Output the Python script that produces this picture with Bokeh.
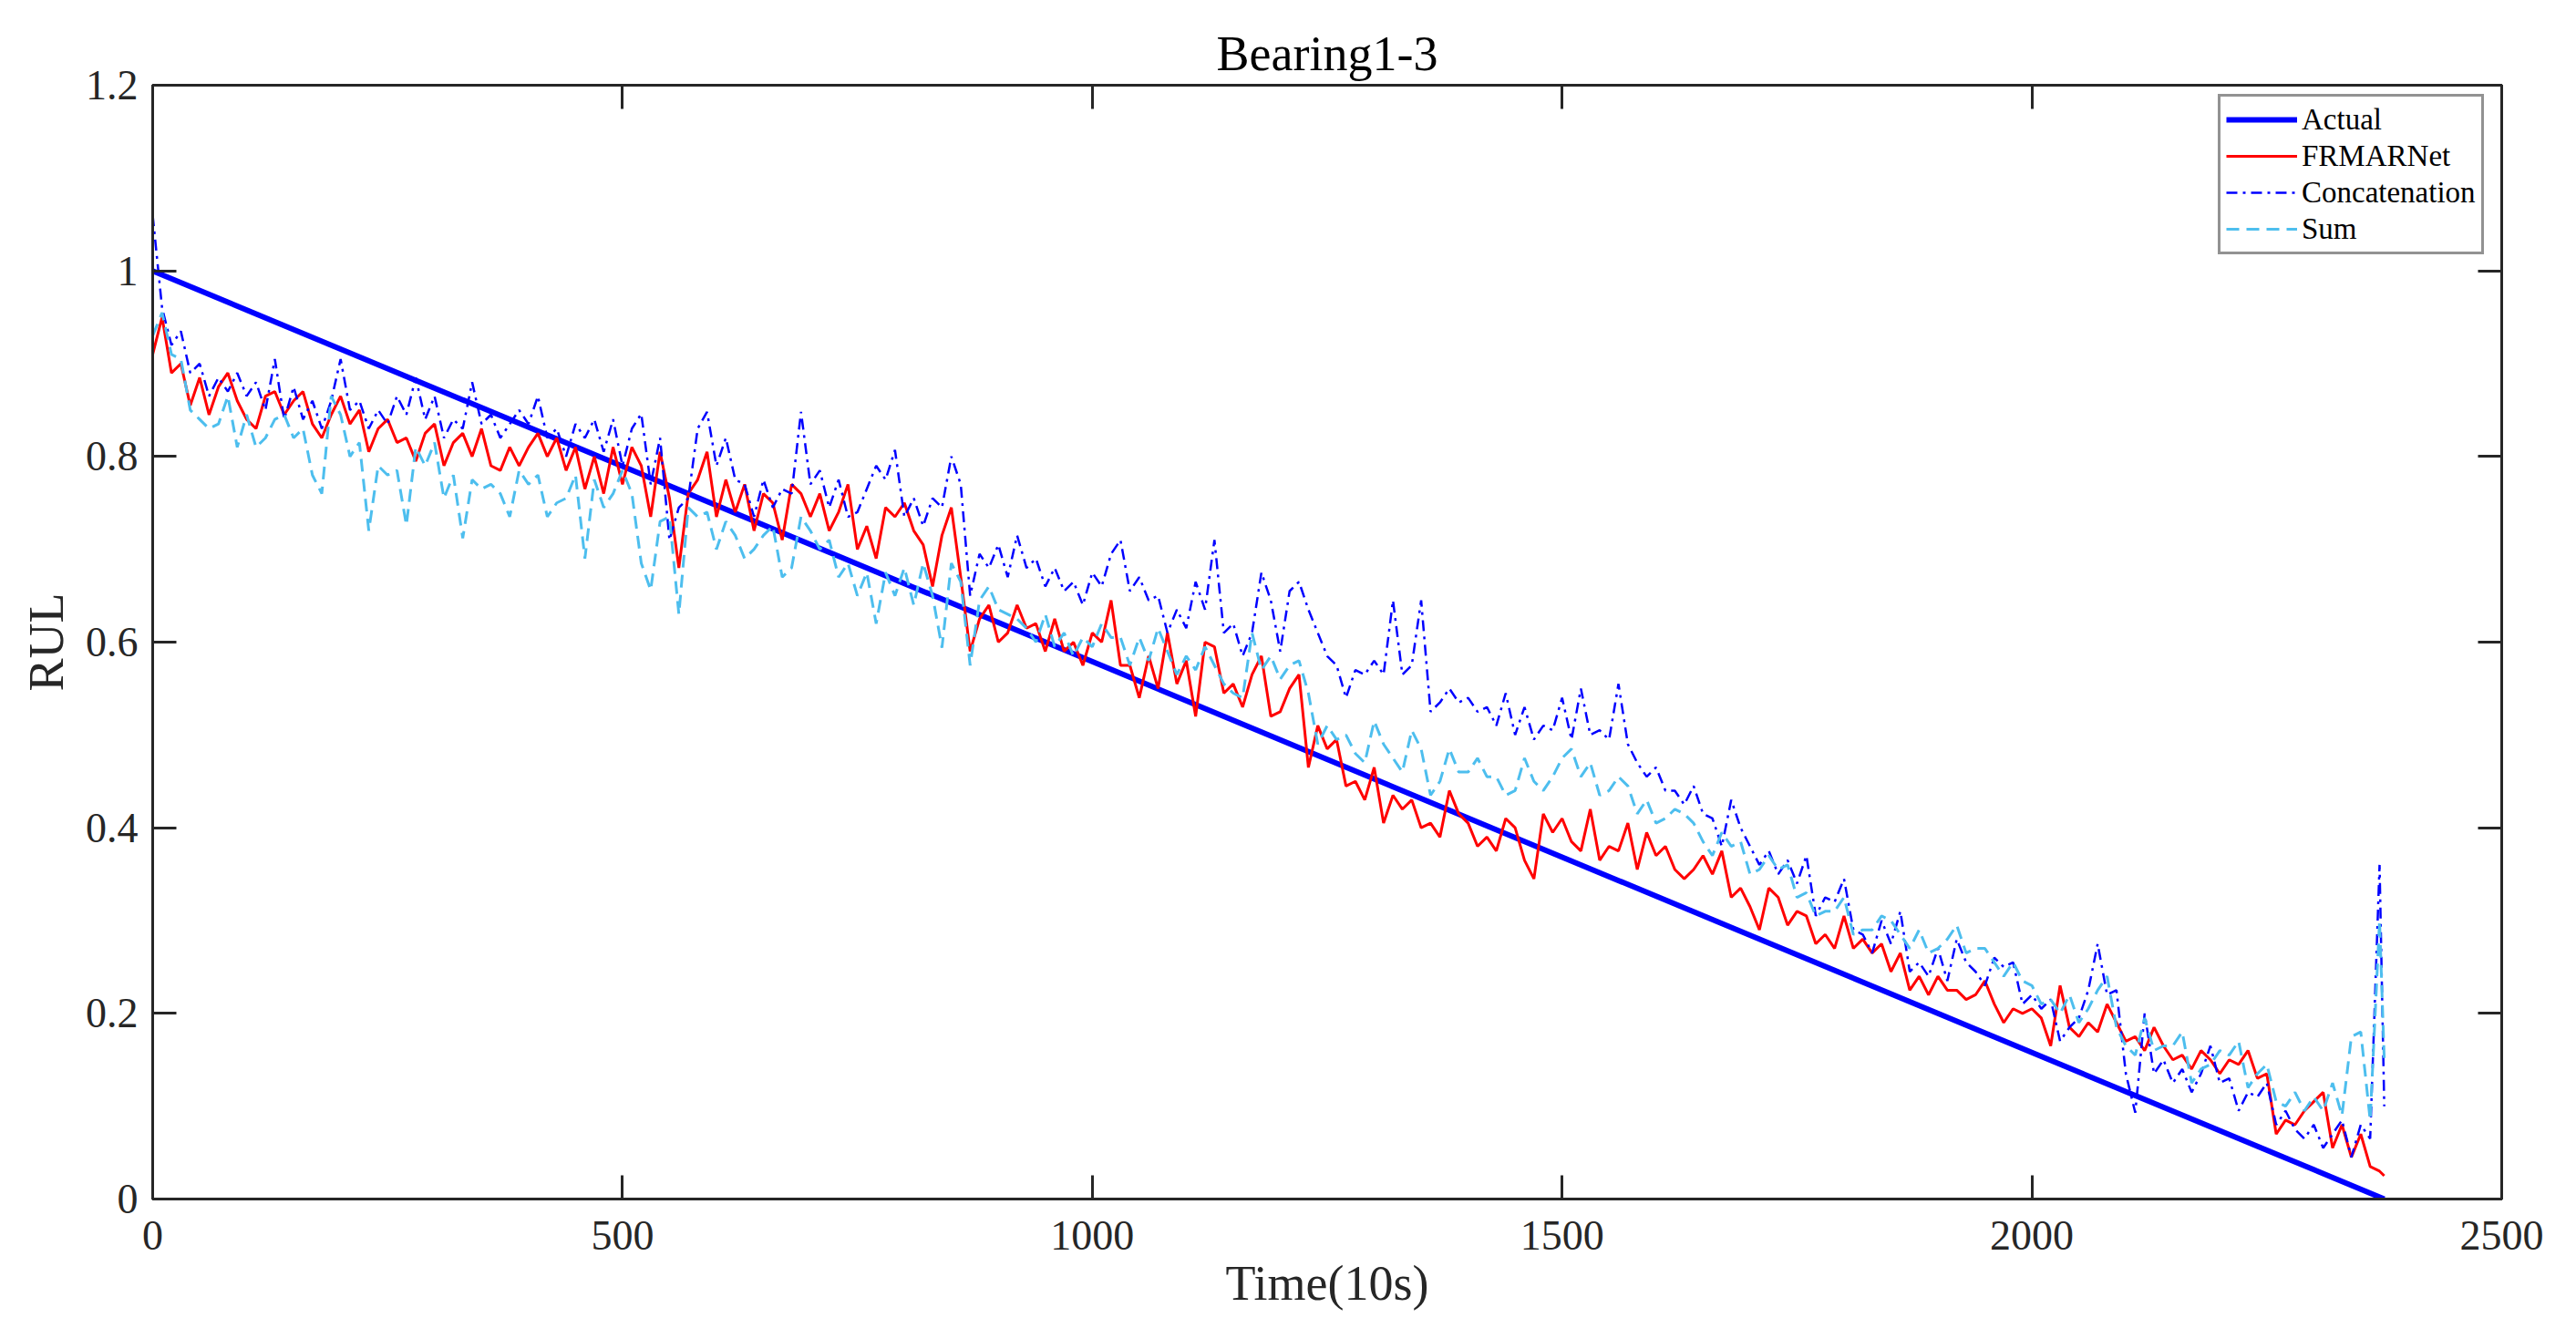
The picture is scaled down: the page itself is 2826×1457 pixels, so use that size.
from bokeh.plotting import figure
from bokeh.models import (Range1d, FixedTicker, LinearAxis, Legend, LegendItem,
                          CustomJSTickFormatter)
from bokeh.embed import file_html
from bokeh.resources import INLINE

# ---------------- data ----------------
time_step = 10
n_points = 238  # samples at 0,10,...,2370
time_end = 2375

actual_x = [0, 2375]
actual_y = [1.0, 0.0]

frmarnet = [
    0.91, 0.95, 0.89, 0.9, 0.855, 0.885, 0.845, 0.875, 0.89, 0.86,
    0.84, 0.83, 0.865, 0.87, 0.845, 0.86, 0.87, 0.835, 0.82, 0.845,
    0.865, 0.835, 0.85, 0.805, 0.83, 0.84, 0.815, 0.82, 0.795, 0.825,
    0.835, 0.79, 0.815, 0.825, 0.8, 0.83, 0.79, 0.785, 0.81, 0.79,
    0.81, 0.825, 0.8, 0.82, 0.785, 0.81, 0.765, 0.8, 0.76, 0.81,
    0.77, 0.81, 0.79, 0.735, 0.805, 0.755, 0.68, 0.76, 0.775, 0.805,
    0.735, 0.775, 0.74, 0.77, 0.72, 0.76, 0.75, 0.71, 0.77, 0.76,
    0.735, 0.76, 0.72, 0.74, 0.77, 0.7, 0.725, 0.69, 0.745, 0.735,
    0.75, 0.72, 0.705, 0.66, 0.715, 0.745, 0.67, 0.59, 0.625, 0.64,
    0.6, 0.61, 0.64, 0.615, 0.62, 0.59, 0.625, 0.59, 0.6, 0.575,
    0.61, 0.6, 0.645, 0.575, 0.575, 0.54, 0.585, 0.55, 0.61, 0.555,
    0.58, 0.52, 0.6, 0.595, 0.545, 0.555, 0.53, 0.565, 0.585, 0.52,
    0.525, 0.55, 0.565, 0.465, 0.51, 0.485, 0.495, 0.445, 0.45, 0.43,
    0.465, 0.405, 0.435, 0.42, 0.43, 0.4, 0.405, 0.39, 0.44, 0.415,
    0.405, 0.38, 0.39, 0.375, 0.41, 0.4, 0.365, 0.345, 0.415, 0.395,
    0.41, 0.385, 0.375, 0.42, 0.365, 0.38, 0.375, 0.405, 0.355, 0.395,
    0.37, 0.38, 0.355, 0.345, 0.355, 0.37, 0.35, 0.375, 0.325, 0.335,
    0.315, 0.29, 0.335, 0.325, 0.295, 0.31, 0.305, 0.275, 0.285, 0.27,
    0.305, 0.27, 0.28, 0.265, 0.275, 0.245, 0.265, 0.225, 0.24, 0.22,
    0.24, 0.225, 0.225, 0.215, 0.22, 0.235, 0.21, 0.19, 0.205, 0.2,
    0.205, 0.195, 0.165, 0.23, 0.185, 0.175, 0.19, 0.18, 0.21, 0.19,
    0.17, 0.175, 0.16, 0.185, 0.165, 0.15, 0.155, 0.14, 0.16, 0.15,
    0.135, 0.15, 0.145, 0.16, 0.13, 0.135, 0.07, 0.085, 0.08, 0.095,
    0.105, 0.115, 0.055, 0.08, 0.045, 0.07, 0.035, 0.03,
    0.025,
]

concatenation = [
    1.06, 0.96, 0.92, 0.935, 0.89, 0.9, 0.865, 0.885, 0.87, 0.89,
    0.865, 0.88, 0.85, 0.905, 0.84, 0.875, 0.84, 0.86, 0.83, 0.86,
    0.905, 0.85, 0.86, 0.83, 0.85, 0.835, 0.865, 0.845, 0.885, 0.84,
    0.865, 0.82, 0.84, 0.83, 0.88, 0.835, 0.845, 0.82, 0.835, 0.85,
    0.835, 0.865, 0.82, 0.83, 0.8, 0.835, 0.82, 0.84, 0.805, 0.84,
    0.79, 0.83, 0.846, 0.77, 0.82, 0.71, 0.745, 0.755, 0.83, 0.848,
    0.79, 0.82, 0.775, 0.77, 0.735, 0.775, 0.745, 0.765, 0.76, 0.848,
    0.77, 0.785, 0.745, 0.775, 0.735, 0.74, 0.765, 0.79, 0.775, 0.807,
    0.735, 0.755, 0.725, 0.755, 0.745, 0.8, 0.77, 0.65, 0.695, 0.68,
    0.705, 0.67, 0.715, 0.68, 0.69, 0.66, 0.68, 0.655, 0.665, 0.64,
    0.675, 0.66, 0.695, 0.71, 0.655, 0.67, 0.645, 0.65, 0.61, 0.635,
    0.615, 0.665, 0.635, 0.71, 0.61, 0.62, 0.585, 0.61, 0.675, 0.645,
    0.59, 0.655, 0.665, 0.635, 0.61, 0.585, 0.575, 0.54, 0.57, 0.565,
    0.58, 0.565, 0.645, 0.565, 0.575, 0.645, 0.525, 0.535, 0.55, 0.535,
    0.54, 0.525, 0.53, 0.51, 0.545, 0.5, 0.53, 0.495, 0.51, 0.505,
    0.54, 0.495, 0.55, 0.5, 0.505, 0.495, 0.555, 0.49, 0.47, 0.455,
    0.465, 0.44, 0.44, 0.425, 0.445, 0.415, 0.41, 0.38, 0.43, 0.4,
    0.38, 0.36, 0.375, 0.35, 0.365, 0.34, 0.37, 0.305, 0.325, 0.32,
    0.345, 0.29, 0.285, 0.265, 0.3, 0.275, 0.31, 0.245, 0.255, 0.24,
    0.27, 0.235, 0.28, 0.255, 0.245, 0.23, 0.26, 0.25, 0.255, 0.21,
    0.22, 0.205, 0.215, 0.17, 0.185, 0.195, 0.225, 0.275, 0.22, 0.225,
    0.135, 0.093, 0.2, 0.135, 0.15, 0.125, 0.14, 0.115, 0.135, 0.165,
    0.125, 0.13, 0.095, 0.115, 0.11, 0.125, 0.08, 0.095, 0.075, 0.065,
    0.08, 0.055, 0.07, 0.085, 0.045, 0.08, 0.065, 0.36,
    0.1,
]

sum_fusion = [
    0.93, 0.955, 0.91, 0.905, 0.85, 0.84, 0.83, 0.835, 0.865, 0.81,
    0.845, 0.81, 0.82, 0.84, 0.845, 0.82, 0.83, 0.78, 0.76, 0.865,
    0.845, 0.8, 0.815, 0.72, 0.79, 0.78, 0.785, 0.726, 0.81, 0.79,
    0.815, 0.755, 0.78, 0.712, 0.775, 0.765, 0.77, 0.76, 0.735, 0.785,
    0.77, 0.78, 0.735, 0.75, 0.755, 0.78, 0.69, 0.775, 0.745, 0.76,
    0.785, 0.76, 0.685, 0.656, 0.73, 0.735, 0.63, 0.745, 0.735, 0.74,
    0.7, 0.73, 0.715, 0.69, 0.7, 0.715, 0.725, 0.67, 0.68, 0.735,
    0.72, 0.7, 0.71, 0.67, 0.685, 0.65, 0.675, 0.62, 0.675, 0.65,
    0.68, 0.64, 0.685, 0.65, 0.594, 0.685, 0.665, 0.575, 0.645, 0.66,
    0.635, 0.63, 0.625, 0.615, 0.6, 0.63, 0.595, 0.61, 0.585, 0.605,
    0.595, 0.62, 0.605, 0.605, 0.575, 0.605, 0.58, 0.615, 0.59, 0.565,
    0.585, 0.57, 0.595, 0.575, 0.555, 0.545, 0.54, 0.61, 0.57, 0.585,
    0.56, 0.575, 0.58, 0.545, 0.49, 0.51, 0.495, 0.5, 0.48, 0.47,
    0.515, 0.49, 0.475, 0.46, 0.505, 0.485, 0.435, 0.45, 0.485, 0.46,
    0.46, 0.475, 0.455, 0.455, 0.435, 0.44, 0.475, 0.45, 0.44, 0.455,
    0.475, 0.485, 0.455, 0.47, 0.435, 0.44, 0.455, 0.445, 0.415, 0.43,
    0.405, 0.41, 0.42, 0.415, 0.405, 0.385, 0.37, 0.395, 0.38, 0.385,
    0.35, 0.355, 0.37, 0.355, 0.36, 0.325, 0.33, 0.305, 0.31, 0.31,
    0.325, 0.285, 0.29, 0.29, 0.305, 0.3, 0.285, 0.27, 0.29, 0.265,
    0.27, 0.28, 0.295, 0.265, 0.27, 0.27, 0.255, 0.24, 0.255, 0.235,
    0.23, 0.21, 0.215, 0.2, 0.22, 0.19, 0.205, 0.225, 0.24, 0.185,
    0.165, 0.155, 0.195, 0.16, 0.165, 0.165, 0.18, 0.125, 0.14, 0.145,
    0.16, 0.155, 0.17, 0.12, 0.135, 0.145, 0.105, 0.1, 0.115, 0.095,
    0.11, 0.095, 0.125, 0.09, 0.175, 0.18, 0.085, 0.3,
    0.15,
]

time = [i * time_step for i in range(n_points)] + [time_end]

x_ticks = [0, 500, 1000, 1500, 2000, 2500]
y_ticks = [0, 0.2, 0.4, 0.6, 0.8, 1.0, 1.2]

title_text = "Bearing1-3"
x_label = "Time(10s)"
y_label = "RUL"
series_names = ["Actual", "FRMARNet", "Concatenation", "Sum"]

# ---------------- style ----------------
FONT = "Liberation Serif"
DARK = "#262626"

p = figure(width=2826, height=1457, output_backend="svg", toolbar_location=None,
           x_range=Range1d(0, 2500), y_range=Range1d(0, 1.2),
           min_border_left=167, min_border_right=82,
           min_border_top=93, min_border_bottom=142)
p.background_fill_color = "white"
p.border_fill_color = "white"
p.xgrid.visible = False
p.ygrid.visible = False
p.outline_line_color = DARK
p.outline_line_width = 3

p.title.text = title_text
p.title.align = "center"
p.title.text_font = FONT
p.title.text_font_size = "54px"
p.title.text_font_style = "normal"
p.title.text_color = "#000000"

ytick_fmt = CustomJSTickFormatter(code="return String(Number(tick.toFixed(1)));")

def style_axis(ax, show_labels):
    ax.axis_line_color = DARK
    ax.axis_line_width = 3
    ax.major_tick_line_color = DARK
    ax.major_tick_line_width = 3
    ax.major_tick_in = 26
    ax.major_tick_out = 0
    ax.minor_tick_line_color = None
    ax.major_label_text_font = FONT
    ax.major_label_text_color = DARK
    if show_labels:
        ax.major_label_text_font_size = "46px"
    else:
        ax.major_label_text_font_size = "0px"
        ax.major_label_text_alpha = 0
    ax.axis_label_text_font = FONT
    ax.axis_label_text_font_size = "54px"
    ax.axis_label_text_font_style = "normal"
    ax.axis_label_text_color = DARK

xa = p.xaxis[0]
xa.ticker = FixedTicker(ticks=x_ticks)
xa.axis_label = x_label
style_axis(xa, True)
xa.major_label_standoff = 24
xa.axis_label_standoff = 4

ya = p.yaxis[0]
ya.ticker = FixedTicker(ticks=y_ticks)
ya.formatter = ytick_fmt
ya.axis_label = y_label
style_axis(ya, True)
ya.major_label_standoff = 16
ya.axis_label_standoff = 10

top_ax = LinearAxis(ticker=FixedTicker(ticks=x_ticks))
style_axis(top_ax, False)
top_ax.major_label_standoff = 0
p.add_layout(top_ax, "above")

right_ax = LinearAxis(ticker=FixedTicker(ticks=y_ticks), formatter=ytick_fmt)
style_axis(right_ax, False)
right_ax.major_label_standoff = 0
p.add_layout(right_ax, "right")

# ---------------- glyphs ----------------
r_act = p.line(actual_x, actual_y, line_color="#0000FF", line_width=6)
r_fr = p.line(time, frmarnet, line_color="#FF0000", line_width=3)
r_cc = p.line(time, concatenation, line_color="#0000FF", line_width=2.5,
              line_dash="12 6 3 6")
r_sm = p.line(time, sum_fusion, line_color="#4DBEEE", line_width=3,
              line_dash="14 8")

legend = Legend(items=[
    LegendItem(label=series_names[0], renderers=[r_act]),
    LegendItem(label=series_names[1], renderers=[r_fr]),
    LegendItem(label=series_names[2], renderers=[r_cc]),
    LegendItem(label=series_names[3], renderers=[r_sm]),
], location=(2266, 1036))
legend.label_text_font = FONT
legend.label_text_font_size = "33px"
legend.label_text_color = "#000000"
legend.glyph_width = 78
legend.glyph_height = 38
legend.label_height = 38
legend.label_standoff = 5
legend.spacing = 2
legend.padding = 6
legend.margin = 0
legend.border_line_color = DARK
legend.border_line_width = 3
legend.background_fill_alpha = 1.0
p.add_layout(legend, "center")

open("out.html", "w").write(file_html(p, INLINE))
